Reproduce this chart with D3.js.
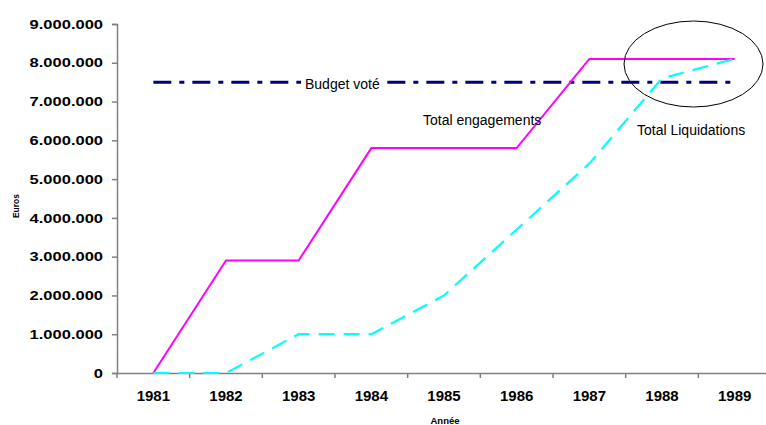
<!DOCTYPE html>
<html>
<head>
<meta charset="utf-8">
<script src="https://cdn.jsdelivr.net/npm/d3@7"></script>
<style>
  body { margin: 0; background: #fff; }
  svg { font-family: "Liberation Sans", Arial, sans-serif; }
</style>
</head>
<body>
<svg id="chart" width="766" height="425"></svg>
<script>
// data
const years = ["1981", "1982", "1983", "1984", "1985", "1986", "1987", "1988", "1989"]
const engagements = [0, 2900000, 2900000, 5800000, 5800000, 5800000, 8100000, 8100000, 8100000]
const liquidations = [0, 0, 1000000, 1000000, 2000000, 3700000, 5400000, 7600000, 8100000]
const budget = 7500000
const yTicks = [0, 1000000, 2000000, 3000000, 4000000, 5000000, 6000000, 7000000, 8000000, 9000000]

const svg = d3.select('#chart')
const mLeft = 117, mRight = 771, mTop = 24, mBottom = 373

const x = d3.scaleBand().domain(years).range([mLeft, mRight])
const y = d3.scaleLinear().domain([0, 9000000]).range([mBottom, mTop])
const cx = (d) => x(d) + x.bandwidth() / 2

// format 9000000 -> 9.000.000
const fmt = (v) => v === 0 ? '0' : d3.format(',')(v).replace(/,/g, '.')

// y axis
const yAxis = svg.append('g')
  .attr('transform', `translate(${mLeft},0)`)
  .call(d3.axisLeft(y).tickValues(yTicks).tickFormat(fmt).tickSize(5).tickPadding(9))
yAxis.select('.domain').attr('stroke', '#808080').attr('stroke-width', 1.5)
yAxis.selectAll('.tick line').attr('stroke', '#808080').attr('stroke-width', 1.5)
// the labels in the original are a bit stretched sideways
yAxis.selectAll('.tick text')
  .attr('x', null)
  .attr('transform', 'translate(-14,0) scale(1.27,1)')
  .attr('font-size', 13).attr('font-weight', 'bold').attr('fill', '#000')
  .attr('font-family', '"Liberation Sans", Arial, sans-serif')

// x axis
const xAxis = svg.append('g')
  .attr('transform', `translate(0,${mBottom})`)
  .call(d3.axisBottom(x).tickSize(0).tickPadding(17))
xAxis.select('.domain').attr('stroke', '#808080').attr('stroke-width', 1.5)
xAxis.selectAll('.tick text')
  .attr('font-size', 15).attr('font-weight', 'bold').attr('fill', '#000')
  .attr('font-family', '"Liberation Sans", Arial, sans-serif')

// tick marks between categories
xAxis.selectAll('.sep')
  .data(years)
  .enter()
  .append('line')
  .attr('x1', (d) => x(d)).attr('x2', (d) => x(d))
  .attr('y1', 0).attr('y2', 5)
  .attr('stroke', '#808080').attr('stroke-width', 1.5)

// axis titles
svg.append('text')
  .attr('transform', `translate(18.5,206) rotate(-90)`)
  .attr('text-anchor', 'middle')
  .attr('font-size', 8.5).attr('font-weight', 'bold')
  .text('Euros')

svg.append('text')
  .attr('x', 445).attr('y', 424)
  .attr('text-anchor', 'middle')
  .attr('font-size', 9.5).attr('font-weight', 'bold')
  .text('Année')

const line = d3.line()
  .x((d, i) => cx(years[i]))
  .y((d) => y(d))

// budget line
svg.append('path')
  .attr('d', d3.line()([[cx(years[0]), y(budget)], [cx(years[years.length - 1]), y(budget)]]))
  .attr('stroke', '#000080')
  .attr('stroke-width', 3)
  .attr('stroke-dasharray', '18 8 5 8')
  .attr('fill', 'none')

// total engagements
svg.append('path')
  .datum(engagements)
  .attr('d', line)
  .attr('stroke', '#ff00ff')
  .attr('stroke-width', 2)
  .attr('fill', 'none')

// total liquidations
svg.append('path')
  .datum(liquidations)
  .attr('d', line)
  .attr('stroke', '#00ffff')
  .attr('stroke-width', 2.2)
  .attr('stroke-dasharray', '16 9')
  .attr('fill', 'none')

// labels
const budgetLabel = svg.append('text')
  .attr('x', 305).attr('y', 89)
  .attr('font-size', 14)
  .text('Budget voté')
const bb = budgetLabel.node().getBBox()
svg.append('rect')
  .attr('x', bb.x - 4).attr('y', bb.y).attr('width', bb.width + 8).attr('height', bb.height)
  .attr('fill', '#fff')
budgetLabel.raise()

svg.append('text')
  .attr('x', 423).attr('y', 125)
  .attr('font-size', 14)
  .text('Total engagements')

svg.append('text')
  .attr('x', 637).attr('y', 134.5)
  .attr('font-size', 14)
  .text('Total Liquidations')

// circle round the end
svg.append('ellipse')
  .attr('cx', 693.5).attr('cy', 64)
  .attr('rx', 69.5).attr('ry', 43)
  .attr('fill', 'none')
  .attr('stroke', '#000')
  .attr('stroke-width', 1)
</script>
</body>
</html>
